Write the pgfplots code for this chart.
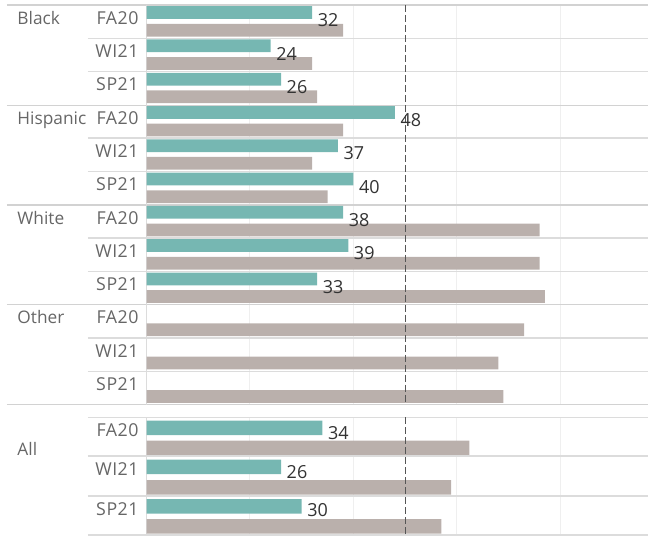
\documentclass[border=0pt]{standalone}
\usepackage{pgfplots}
\pgfplotsset{compat=1.18}
\usepackage{fontspec}
\setmainfont{Open Sans}
\definecolor{tealbar}{HTML}{76B7B2}
\definecolor{greybar}{HTML}{BAB0AC}
\definecolor{lbl}{HTML}{666666}
\definecolor{num}{HTML}{333333}
\definecolor{sepl}{HTML}{D2D2D2}
\definecolor{rowl}{HTML}{DCDCDC}
\definecolor{gridl}{HTML}{EFEFEF}
\definecolor{refl}{HTML}{555555}
\begin{document}
\begin{tikzpicture}
\begin{axis}[
  scale only axis, width=502.3pt, height=537pt,
  xmin=0, xmax=96.97, ymin=0, ymax=537, y dir=reverse,
  axis lines=none, clip=false,
]
% bounding box
\path (axis cs:-28.32,0) rectangle (axis cs:96.97,537);
% vertical gridlines
\foreach \g in {20,40,60,80} {
  \edef\tmp{\noexpand\draw[gridl, line width=1pt] (axis cs:\g,5) -- (axis cs:\g,405);
  \noexpand\draw[gridl, line width=1pt] (axis cs:\g,418) -- (axis cs:\g,536);}
  \tmp
}
% horizontal group lines
\foreach \yy in {5,105.5,205,305,405} {
  \edef\tmp{\noexpand\draw[sepl, line width=1.6pt] (axis cs:-26.97,\yy) -- (axis cs:96.97,\yy);}
  \tmp
}
% row lines
\foreach \yy in {38.3,71.7,138.3,171.7,238.3,271.7,338.3,371.7,417.7,456.7,496.7,535.7} {
  \edef\tmp{\noexpand\draw[rowl, line width=1.3pt] (axis cs:-11.33,\yy) -- (axis cs:96.97,\yy);}
  \tmp
}
% left axis line
\draw[rowl, line width=1.2pt] (axis cs:0,5) -- (axis cs:0,405);
\draw[rowl, line width=1.2pt] (axis cs:0,417.7) -- (axis cs:0,535.7);

% bars: first four groups
\addplot[xbar, bar width=12.8pt, bar shift=0pt, fill=greybar, draw=none] coordinates {
 (38,30.2) (32,63.5) (33,96.9)
 (38,130.2) (32,163.5) (35,196.9)
 (76,230.2) (76,263.5) (77,296.9)
 (73,330.2) (68,363.5) (69,396.9)};
\addplot[xbar, bar width=12.8pt, bar shift=0pt, fill=tealbar, draw=none] coordinates {
 (32,12.6) (24,45.9) (26,79.3)
 (48,112.6) (37,145.9) (40,179.3)
 (38,212.6) (39,245.9) (33,279.3)};
% bars: All group
\addplot[xbar, bar width=14.5pt, bar shift=0pt, fill=greybar, draw=none] coordinates {
 (62.4,448.3) (58.9,488) (57,527)};
\addplot[xbar, bar width=14.5pt, bar shift=0pt, fill=tealbar, draw=none] coordinates {
 (34,428.3) (26,467.5) (30,507)};

% reference line
\draw[refl, line width=1.3pt, dash pattern=on 7pt off 3pt] (axis cs:50,5) -- (axis cs:50,405);
\draw[refl, line width=1.3pt, dash pattern=on 7pt off 3pt] (axis cs:50,418) -- (axis cs:50,536);

% value labels
\foreach \v/\yy in {32/26.8,24/60.1,26/93.5,48/126.8,37/160.1,40/193.5,38/226.8,39/260.1,33/293.5,34/440.3,26/478.8,30/517.3} {
  \edef\tmp{\noexpand\node[anchor=base west, inner sep=0pt, xshift=5.5pt, text=num, font=\noexpand\fontsize{18}{20}\noexpand\selectfont] at (axis cs:\v,\yy) {\v};}
  \tmp
}
% period labels
\foreach \p/\yy in {FA20/24.3,WI21/57.6,SP21/91,FA20/124.3,WI21/157.6,SP21/191,FA20/224.3,WI21/257.6,SP21/291,FA20/324.3,WI21/357.6,SP21/391,FA20/436.7,WI21/476.3,SP21/516.5} {
  \edef\tmp{\noexpand\node[anchor=base east, inner sep=0pt, text=lbl, font=\noexpand\fontsize{17.8}{20}\noexpand\selectfont\addfontfeatures{LetterSpace=3}] at (axis cs:-1.49,\yy) {\p};}
  \tmp
}
% group labels
\foreach \c/\yy in {Black/24.3,Hispanic/124.3,White/224.3,Other/324.3,All/456} {
  \edef\tmp{\noexpand\node[anchor=base west, inner sep=0pt, text=lbl, font=\noexpand\fontsize{17.3}{20}\noexpand\selectfont] at (axis cs:-24.98,\yy) {\c};}
  \tmp
}
\end{axis}
\end{tikzpicture}
\end{document}
